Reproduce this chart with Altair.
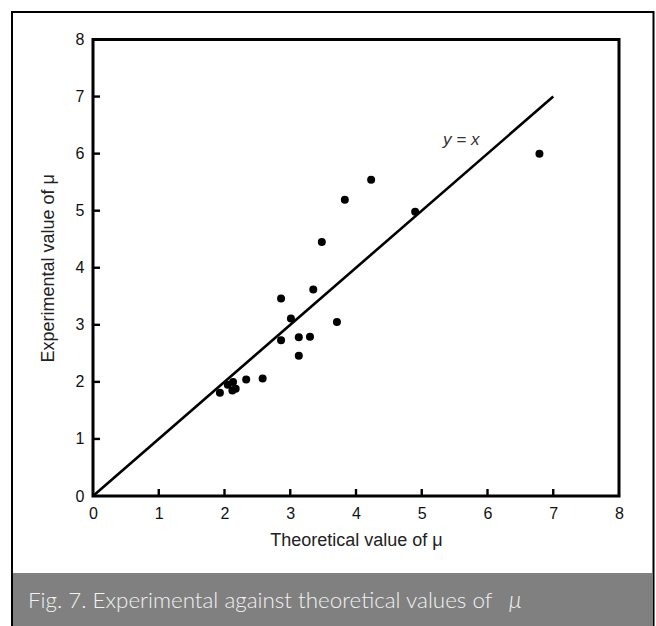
import altair as alt
import pandas as pd

# Data
theoretical = [1.93, 2.05, 2.13, 2.12, 2.17, 2.33, 2.58, 2.86, 2.86, 3.01,
               3.13, 3.13, 3.30, 3.35, 3.71, 3.48, 3.83, 4.23, 4.90, 6.79]
experimental = [1.81, 1.95, 2.00, 1.85, 1.88, 2.04, 2.06, 2.73, 3.46, 3.11,
                2.78, 2.46, 2.79, 3.62, 3.05, 4.45, 5.19, 5.54, 4.98, 6.00]
line_x = [0, 7]
line_y = [0, 7]
tick_values = [0, 1, 2, 3, 4, 5, 6, 7, 8]
inner_ticks = [1, 2, 3, 4, 5, 6, 7]
label_text = ["y = x"]
label_x = [5.60]
label_y = [6.24]
caption = "Fig. 7. Experimental against theoretical values of"
caption_symbol = "\u03bc"

W, H = 526, 456.5
PL, PT = 93, 39.5

pts = pd.DataFrame({"x": theoretical, "y": experimental})
ln = pd.DataFrame({"x": line_x, "y": line_y})
tkx = pd.DataFrame({"x": inner_ticks})
tky = pd.DataFrame({"y": inner_ticks})
lab = pd.DataFrame({"x": label_x, "y": label_y, "text": label_text})

xs = alt.Scale(domain=[0, 8], nice=False, zero=False)
ys = alt.Scale(domain=[0, 8], nice=False, zero=False)

font = "Liberation Sans"

frame = alt.Chart(alt.Data(values=[{}])).mark_rect(
    fill=None, stroke="black", strokeWidth=2, clip=False
).encode(x=alt.value(12 - PL), x2=alt.value(653.5 - PL),
         y=alt.value(12 - PT), y2=alt.value(700 - PT))

bar = alt.Chart(alt.Data(values=[{}])).mark_rect(
    fill="#808080", stroke=None, clip=False
).encode(x=alt.value(13 - PL), x2=alt.value(652.5 - PL),
         y=alt.value(573 - PT), y2=alt.value(700 - PT))

cap = alt.Chart(alt.Data(values=[{"c": caption}])).mark_text(
    align="left", baseline="alphabetic", font="Lato", fontWeight=300,
    fontSize=22.4, color="#f2f2f2", clip=False
).encode(x=alt.value(28 - PL), y=alt.value(608 - PT), text="c:N")

cap_mu = alt.Chart(alt.Data(values=[{"c": caption_symbol}])).mark_text(
    align="left", baseline="alphabetic", font="Lato", fontStyle="italic",
    fontWeight=300, fontSize=23, color="#f2f2f2", clip=False
).encode(x=alt.value(509 - PL), y=alt.value(608 - PT), text="c:N")

xaxis = alt.Axis(values=tick_values, title="Theoretical value of \u03bc",
                 domain=False, ticks=False, grid=False,
                 labelFont=font, labelFontSize=16, labelColor="#111",
                 labelPadding=9, labelFlush=False,
                 titleFont=font, titleFontSize=18, titleFontWeight="normal",
                 titleColor="#222", titleY=44, titleBaseline="middle")
yaxis = alt.Axis(values=tick_values, title="Experimental value of \u03bc",
                 domain=False, ticks=False, grid=False,
                 labelFont=font, labelFontSize=16, labelColor="#111",
                 labelPadding=9, labelFlush=False,
                 titleFont=font, titleFontSize=18, titleFontWeight="normal",
                 titleColor="#222", titleX=-45, titleBaseline="middle")

line = alt.Chart(ln).mark_line(color="black", strokeWidth=2.6).encode(
    x=alt.X("x:Q", scale=xs, axis=xaxis),
    y=alt.Y("y:Q", scale=ys, axis=yaxis),
)

points = alt.Chart(pts).mark_circle(color="black", opacity=1, size=64).encode(
    x=alt.X("x:Q", scale=xs, axis=xaxis), y=alt.Y("y:Q", scale=ys, axis=yaxis))

xticks = alt.Chart(tkx).mark_rule(color="black", strokeWidth=2.4).encode(
    x=alt.X("x:Q", scale=xs, axis=xaxis),
    y=alt.value(H), y2=alt.value(H - 7))

yticks = alt.Chart(tky).mark_rule(color="black", strokeWidth=2.4).encode(
    y=alt.Y("y:Q", scale=ys, axis=yaxis),
    x=alt.value(0), x2=alt.value(7))

label = alt.Chart(lab).mark_text(
    font=font, fontSize=17, fontStyle="italic", color="#333", align="center",
    baseline="middle"
).encode(x=alt.X("x:Q", scale=xs, axis=xaxis), y=alt.Y("y:Q", scale=ys, axis=yaxis),
         text="text:N")

chart = alt.layer(frame, bar, cap, cap_mu, line, points, xticks, yticks, label).properties(
    width=W, height=H,
    autosize=alt.AutoSizeParams(type="none"),
    padding={"left": PL, "top": PT, "right": 656 - PL - W, "bottom": 626 - PT - H},
    background="white",
).configure_view(stroke="black", strokeWidth=3)

chart.save("out.html", embed_options={"renderer": "svg", "actions": False})
